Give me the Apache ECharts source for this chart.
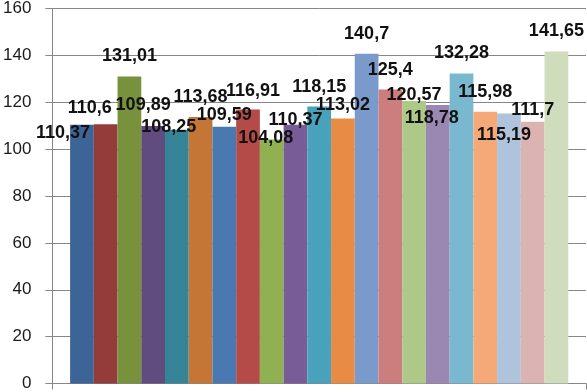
<!DOCTYPE html>
<html style="height: 100%">
    <head>
        <meta charset="utf-8">
    </head>
    <body style="height: 100%; margin: 0; background: #fff">
        <div id="container" style="width: 587px; height: 392px"></div>

        <script type="text/javascript" src="https://cdn.jsdelivr.net/npm/echarts@6/dist/echarts.min.js"></script>

        <script type="text/javascript">
var values = [110.37, 110.6, 131.01, 109.89, 108.25, 113.68, 109.59, 116.91, 104.08, 110.37,
              118.15, 113.02, 140.7, 125.4, 120.57, 118.78, 132.28, 115.98, 115.19, 111.7, 141.65];

var colors = ['#3d6496', '#943c3a', '#78913c', '#604c7e', '#358497', '#c47636', '#4a78b0',
              '#b54b48', '#8fb152', '#785c98', '#48a2bc', '#e88c45', '#7a9acb', '#cb7e7d',
              '#adc887', '#9a88b3', '#7ab8d0', '#f5a979', '#aec3dc', '#dcb3b3', '#cfddbc'];

// label nudges (x, y) measured from the top of each bar
var labelOffsets = [[-19, 8], [-16, -16], [0, -20], [-10, -21], [-8, -3], [0, -20], [0, -12],
                    [5, -18], [-6, -2], [0, -5], [0, -20], [0, -14], [0, -20], [0, -20],
                    [0, -6], [-6, 13], [0, -20], [0, -20], [-5, 22], [0, -12], [0, -20]];

var yTicks = { min: 0, max: 160, interval: 20 };

var dom = document.getElementById("container");
var myChart = echarts.init(dom);

var series = values.map(function (v, i) {
  return {
    type: 'bar',
    data: [v],
    barGap: '0%',
    barCategoryGap: '6.65%',
    itemStyle: { color: colors[i] },
    label: {
      show: true,
      position: 'top',
      distance: 0,
      verticalAlign: 'middle',
      offset: labelOffsets[i],
      fontFamily: 'Liberation Sans',
      fontWeight: 'bold',
      fontSize: 18,
      color: '#111',
      formatter: function (p) { return String(p.value).replace('.', ','); }
    }
  };
});

var option = {
  animation: false,
  grid: { left: 49, right: 1, top: 6, bottom: 7, containLabel: false },
  xAxis: {
    type: 'category',
    data: [''],
    axisLine: { lineStyle: { color: '#878787' } },
    axisTick: { show: true, length: 6, lineStyle: { color: '#878787' } },
    axisLabel: { show: false }
  },
  yAxis: {
    type: 'value',
    min: yTicks.min,
    max: yTicks.max,
    interval: yTicks.interval,
    axisLine: { show: true, lineStyle: { color: '#878787' } },
    axisTick: { show: true, length: 7, lineStyle: { color: '#878787' } },
    splitLine: { lineStyle: { color: '#878787' } },
    axisLabel: {
      margin: 21,
      fontFamily: 'Liberation Sans',
      fontSize: 17,
      color: '#1a1a1a'
    }
  },
  series: series
};

myChart.setOption(option);
        </script>
    </body>
</html>
